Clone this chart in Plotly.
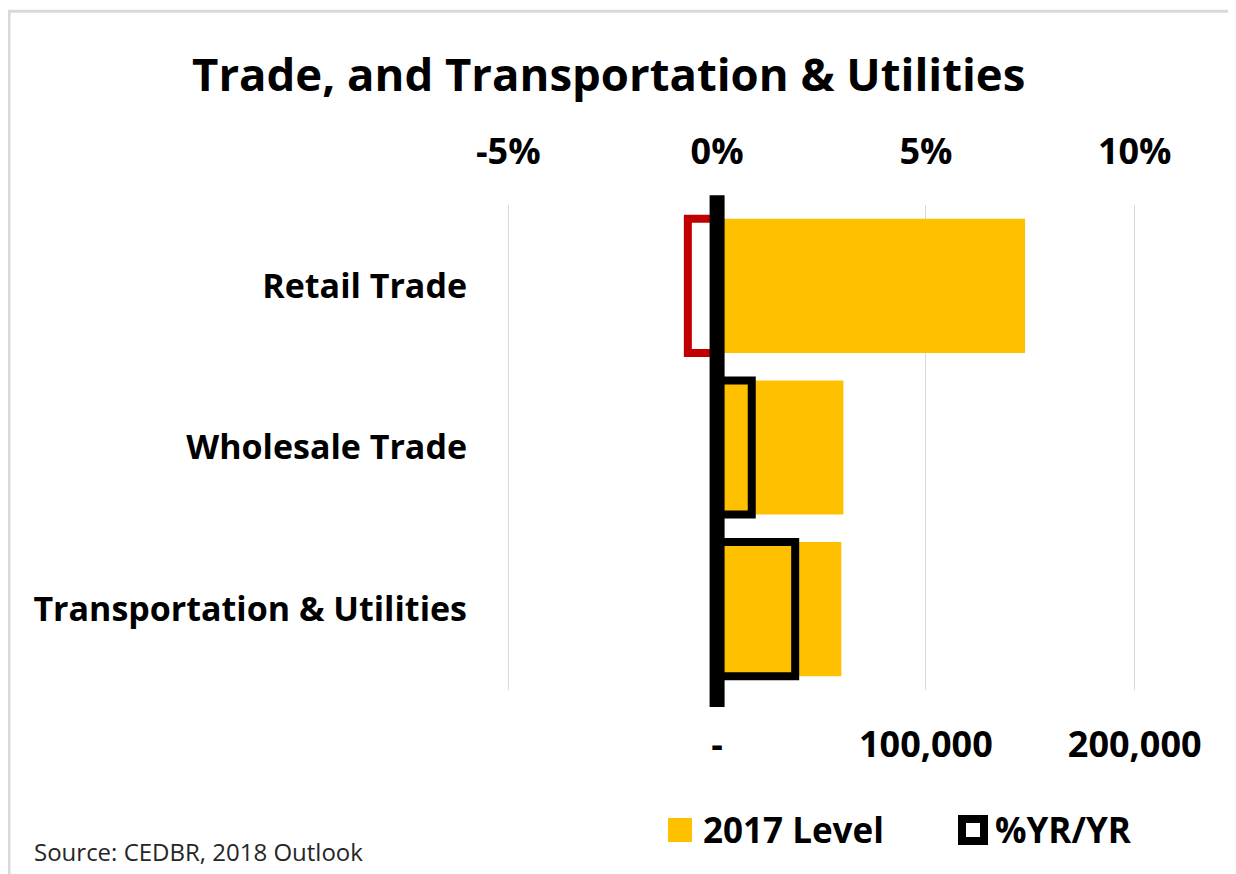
import plotly.graph_objects as go

# Data (listed bottom-to-top so Retail Trade appears at the top)
categories = ["Transportation & Utilities", "Wholesale Trade", "Retail Trade"]
level_2017 = [59500, 60500, 147500]
pct_yr_yr = [1.87, 0.83, -0.70]

level_ticks = [-100000, 0, 100000, 200000]
level_ticktext = ["", "-", "100,000", "200,000"]
pct_ticks = [-5, 0, 5, 10]
pct_ticktext = ["-5%", "0%", "5%", "10%"]

series_names = ["2017 Level", "%YR/YR"]
LEVEL_COLOR = "#FFC000"

FONT = "Open Sans"
outline_colors = ["#C00000" if v < 0 else "#000000" for v in pct_yr_yr]

fig = go.Figure()
fig.add_trace(go.Bar(
    y=categories, x=level_2017, orientation="h", name=series_names[0],
    marker=dict(color=LEVEL_COLOR, line=dict(width=0)), xaxis="x", yaxis="y",
    showlegend=False,
))
fig.add_trace(go.Bar(
    y=categories, x=pct_yr_yr, orientation="h", name=series_names[1],
    marker=dict(color="rgba(0,0,0,0)", line=dict(color=outline_colors, width=8)),
    xaxis="x2", yaxis="y", showlegend=False,
))

tickfont = dict(family=FONT, size=36, color="black", weight="bold")
catfont = dict(family=FONT, size=34, color="black", weight="bold")

fig.update_layout(
    width=1236, height=874,
    paper_bgcolor="white", plot_bgcolor="white",
    margin=dict(l=494, r=103, t=197, b=192),
    barmode="overlay", bargap=0.17,
    title=dict(text="<b>Trade, and Transportation & Utilities</b>",
               x=0.486, xanchor="center", y=0.923, yanchor="middle",
               font=dict(family=FONT, size=45.5, color="black")),
    xaxis=dict(range=[-103000, 203000], tickvals=level_ticks, ticktext=level_ticktext,
               side="bottom", showgrid=True, gridcolor="#D9D9D9", gridwidth=1,
               zeroline=False, showline=False, ticks="",
               ticklabelstandoff=30, tickfont=tickfont),
    xaxis2=dict(range=[-5.15, 10.15], tickvals=pct_ticks, ticktext=pct_ticktext,
                side="top", overlaying="x", showgrid=False, zeroline=False,
                showline=False, ticks="", ticklabelstandoff=33, tickfont=tickfont),
    yaxis=dict(showgrid=False, zeroline=False, showline=False, ticks="",
               ticklabelstandoff=34, tickfont=catfont),
    showlegend=False,
)

# Thick zero line at 0 on the axes
fig.add_shape(type="line", xref="x", yref="paper", x0=0, x1=0, y0=-0.035, y1=1.02,
              line=dict(color="black", width=15), layer="above")

# Light border around the chart (top / left edges)
fig.add_shape(type="rect", xref="paper", yref="paper", x0=-0.7715, x1=1.3, y0=-0.5, y1=1.3995,
              line=dict(color="#D9D9D9", width=3), layer="below")

# Custom legend (paper coordinates relative to the plot area)
def px_x(px):
    return (px - 502) / 639.0

def px_y(py):
    return (690 - py) / 485.0

fig.add_shape(type="rect", xref="paper", yref="paper",
              x0=px_x(668), x1=px_x(692), y0=px_y(842), y1=px_y(818),
              fillcolor=LEVEL_COLOR, line=dict(width=0))
fig.add_annotation(text="<b>" + series_names[0] + "</b>", xref="paper", yref="paper",
                   x=px_x(701), y=px_y(830), xanchor="left", yanchor="middle",
                   showarrow=False, font=dict(family=FONT, size=35, color="black"))
fig.add_shape(type="rect", xref="paper", yref="paper",
              x0=px_x(962), x1=px_x(984), y0=px_y(841), y1=px_y(819),
              fillcolor="white", line=dict(color="black", width=8))
fig.add_annotation(text="<b>" + series_names[1] + "</b>", xref="paper", yref="paper",
                   x=px_x(993), y=px_y(830), xanchor="left", yanchor="middle",
                   showarrow=False, font=dict(family=FONT, size=35, color="black"))

fig.add_annotation(text="Source: CEDBR, 2018 Outlook", xref="paper", yref="paper",
                   x=px_x(32), y=px_y(851), xanchor="left", yanchor="middle", showarrow=False,
                   font=dict(family=FONT, size=24, color="#262626"))

fig.write_html("out.html")
